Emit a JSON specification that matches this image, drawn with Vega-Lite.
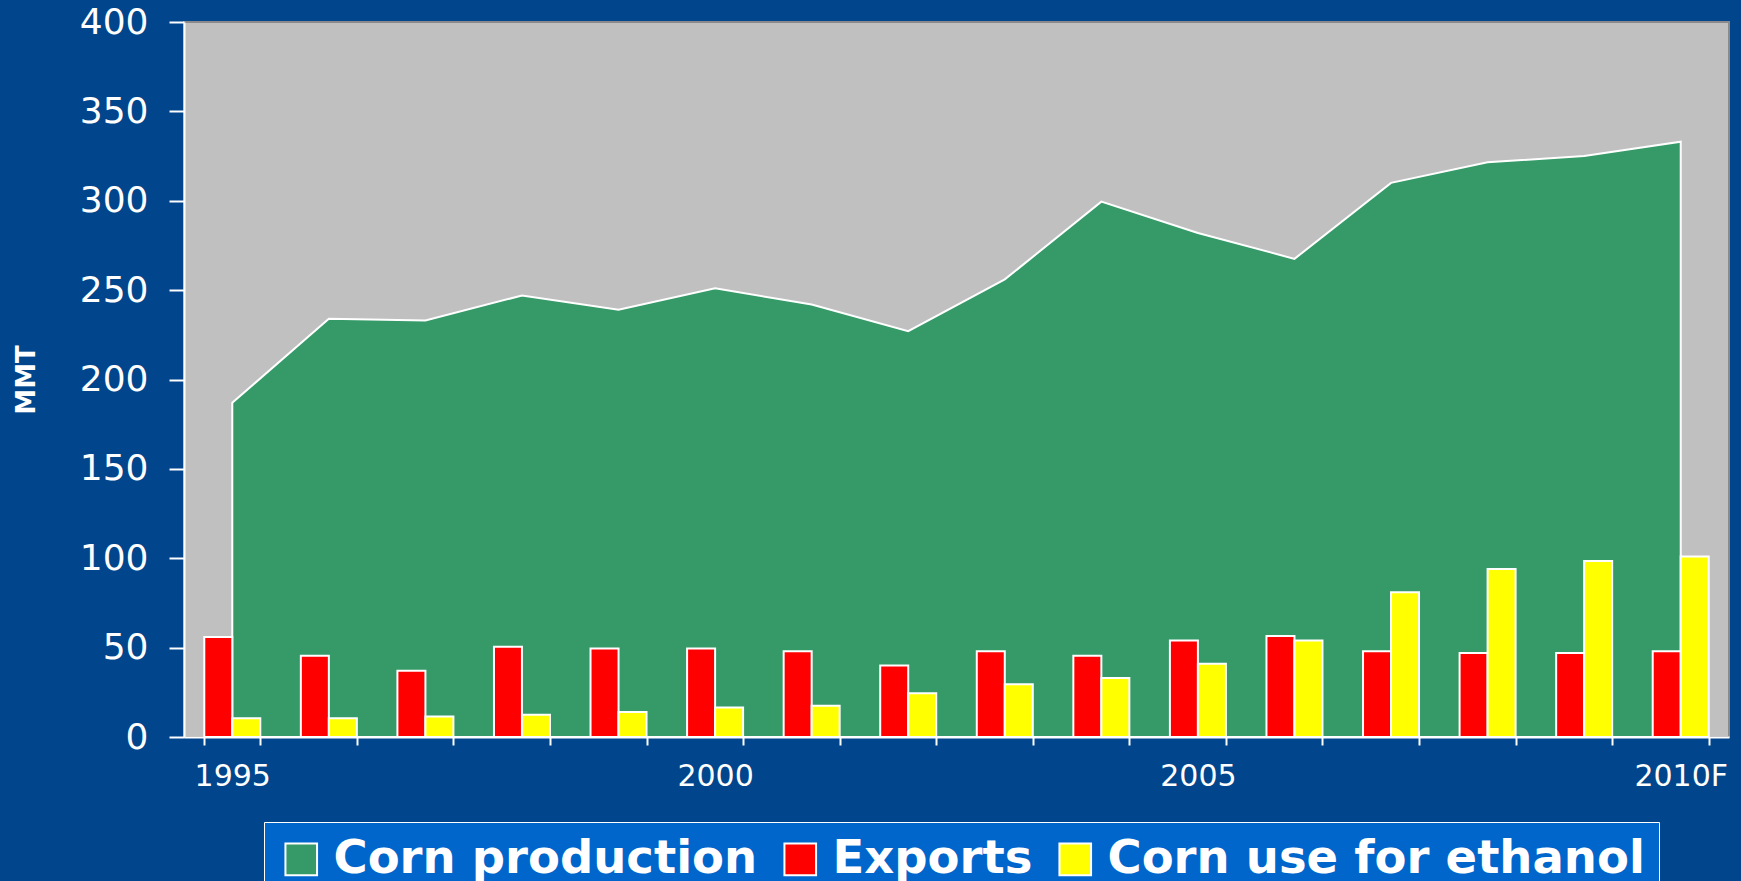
{
  "$schema": "https://vega.github.io/schema/vega-lite/v6.json",
  "width": 1545,
  "height": 715,
  "autosize": {"type": "none"},
  "padding": {"left": 184, "top": 22, "right": 12, "bottom": 144},
  "background": "#01458C",
  "config": {"view": {"fill": "#C0C0C0", "stroke": "#8A8A8A", "strokeWidth": 2}, "font": "DejaVu Sans"},
  "data": {"values": [
    {"year": "1995", "series": "Corn production", "value": 187},
    {"year": "1995", "series": "Exports", "value": 56},
    {"year": "1995", "series": "Corn use for ethanol", "value": 10.5},
    {"year": "1996", "series": "Corn production", "value": 234},
    {"year": "1996", "series": "Exports", "value": 45.5},
    {"year": "1996", "series": "Corn use for ethanol", "value": 10.5},
    {"year": "1997", "series": "Corn production", "value": 233},
    {"year": "1997", "series": "Exports", "value": 37},
    {"year": "1997", "series": "Corn use for ethanol", "value": 11.5},
    {"year": "1998", "series": "Corn production", "value": 247},
    {"year": "1998", "series": "Exports", "value": 50.5},
    {"year": "1998", "series": "Corn use for ethanol", "value": 12.5},
    {"year": "1999", "series": "Corn production", "value": 239},
    {"year": "1999", "series": "Exports", "value": 49.5},
    {"year": "1999", "series": "Corn use for ethanol", "value": 14},
    {"year": "2000", "series": "Corn production", "value": 251},
    {"year": "2000", "series": "Exports", "value": 49.5},
    {"year": "2000", "series": "Corn use for ethanol", "value": 16.5},
    {"year": "2001", "series": "Corn production", "value": 242},
    {"year": "2001", "series": "Exports", "value": 48},
    {"year": "2001", "series": "Corn use for ethanol", "value": 17.5},
    {"year": "2002", "series": "Corn production", "value": 227},
    {"year": "2002", "series": "Exports", "value": 40},
    {"year": "2002", "series": "Corn use for ethanol", "value": 24.5},
    {"year": "2003", "series": "Corn production", "value": 256},
    {"year": "2003", "series": "Exports", "value": 48},
    {"year": "2003", "series": "Corn use for ethanol", "value": 29.5},
    {"year": "2004", "series": "Corn production", "value": 299.5},
    {"year": "2004", "series": "Exports", "value": 45.5},
    {"year": "2004", "series": "Corn use for ethanol", "value": 33},
    {"year": "2005", "series": "Corn production", "value": 282},
    {"year": "2005", "series": "Exports", "value": 54},
    {"year": "2005", "series": "Corn use for ethanol", "value": 41},
    {"year": "2006", "series": "Corn production", "value": 267.5},
    {"year": "2006", "series": "Exports", "value": 56.5},
    {"year": "2006", "series": "Corn use for ethanol", "value": 54},
    {"year": "2007", "series": "Corn production", "value": 310},
    {"year": "2007", "series": "Exports", "value": 48},
    {"year": "2007", "series": "Corn use for ethanol", "value": 81},
    {"year": "2008", "series": "Corn production", "value": 321.5},
    {"year": "2008", "series": "Exports", "value": 47},
    {"year": "2008", "series": "Corn use for ethanol", "value": 94},
    {"year": "2009", "series": "Corn production", "value": 325},
    {"year": "2009", "series": "Exports", "value": 47},
    {"year": "2009", "series": "Corn use for ethanol", "value": 98.5},
    {"year": "2010F", "series": "Corn production", "value": 333},
    {"year": "2010F", "series": "Exports", "value": 48},
    {"year": "2010F", "series": "Corn use for ethanol", "value": 101}
  ]},
  "encoding": {
    "x": {
      "field": "year", "type": "ordinal", "sort": null,
      "scale": {"paddingInner": 0.42, "paddingOuter": 0.21},
      "axis": {
        "title": null, "tickBand": "extent", "labelAngle": 0,
        "domainColor": "white", "domainWidth": 2,
        "tickColor": "white", "tickWidth": 2, "tickSize": 8,
        "labelColor": "white", "labelFontSize": 30, "labelPadding": 16,
        "labelExpr": "(datum.value == '1995' || datum.value == '2000' || datum.value == '2005' || datum.value == '2010F') ? datum.value : ''"
      }
    },
    "y": {
      "field": "value", "type": "quantitative",
      "scale": {"domain": [0, 400], "nice": false},
      "axis": {
        "title": "MMT", "titleColor": "white", "titleFontWeight": "bold", "titleFontSize": 26, "titlePadding": 40,
        "values": [0, 50, 100, 150, 200, 250, 300, 350, 400],
        "grid": false, "domainColor": "white", "domainWidth": 2,
        "tickColor": "white", "tickWidth": 2, "tickSize": 15,
        "labelColor": "white", "labelFontSize": 36, "labelPadding": 21
      }
    },
    "color": {
      "field": "series", "type": "nominal",
      "scale": {"domain": ["Corn production", "Exports", "Corn use for ethanol"], "range": ["#359A68", "#FF0000", "#FFFF00"]},
      "legend": {
        "orient": "none", "legendX": 80, "legendY": 800, "direction": "horizontal", "title": null,
        "symbolType": "square", "symbolSize": 1000, "symbolStrokeColor": "white", "symbolStrokeWidth": 2, "symbolOpacity": 1,
        "labelFontWeight": "bold", "labelFontSize": 46.5, "labelColor": "white", "labelLimit": 0, "labelOffset": 9,
        "columnPadding": 19, "fillColor": "#0066CC", "strokeColor": "white", "padding": 14
      }
    }
  },
  "layer": [
    {
      "transform": [{"filter": "datum.series == 'Corn production'"}],
      "mark": {"type": "area", "stroke": "white", "strokeWidth": 2, "opacity": 1}
    },
    {
      "transform": [{"filter": "datum.series != 'Corn production'"}],
      "mark": {"type": "bar", "stroke": "white", "strokeWidth": 2},
      "encoding": {
        "xOffset": {"field": "series", "type": "nominal", "sort": ["Exports", "Corn use for ethanol"], "scale": {"paddingInner": 0, "paddingOuter": 0}}
      }
    }
  ]
}
